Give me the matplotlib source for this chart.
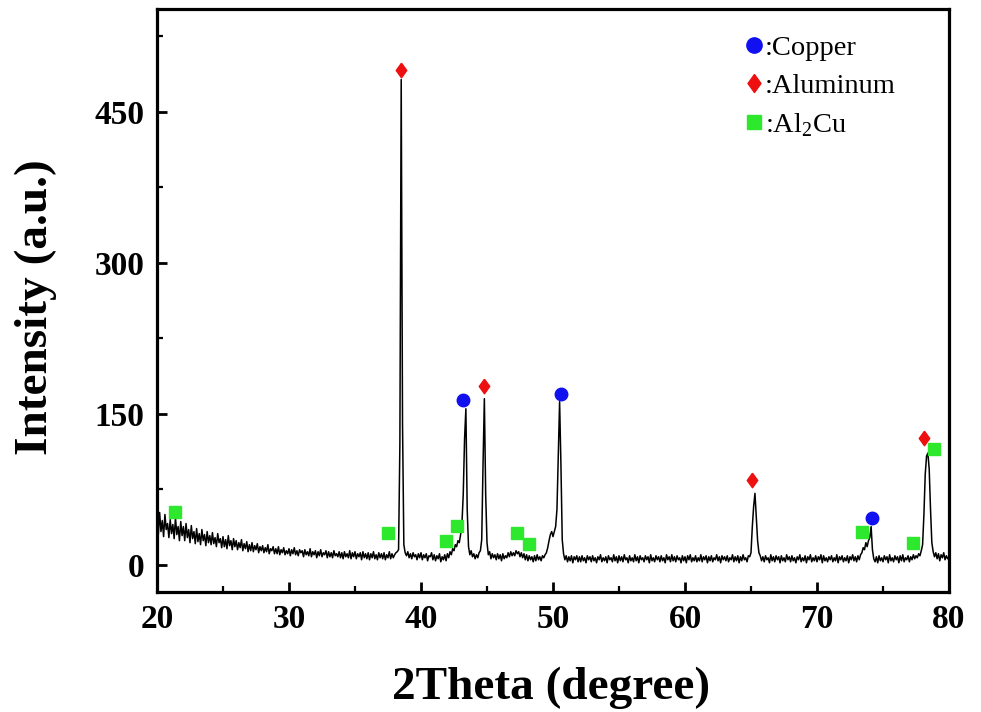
import numpy as np
import matplotlib
matplotlib.use("Agg")
import matplotlib.pyplot as plt
from matplotlib.lines import Line2D

# ---------------- data ----------------
two_theta_start = 20.0
two_theta_step = 0.1
intensity = [
    46, 30, 52, 33, 44, 28, 50, 35, 41, 27,   # 20
    45, 31, 40, 26, 47, 30, 38, 24, 43, 29,   # 21
    38, 24, 41, 27, 35, 22, 39, 26, 33, 21,   # 22
    36, 23, 31, 20, 35, 24, 30, 19, 33, 22,   # 23
    29, 20, 32, 21, 27, 18, 31, 22, 26, 17,   # 24
    28, 18, 25, 16, 29, 19, 24, 15, 26, 18,   # 25
    24, 15, 22, 17, 25, 14, 21, 16, 23, 13,   # 26
    20, 14, 22, 13, 19, 15, 21, 12, 18, 14,   # 27
    19, 12, 17, 13, 20, 11, 16, 14, 18, 11,   # 28
    16, 11, 18, 10, 15, 12, 17, 10, 14, 11,   # 29
    16, 9, 15, 11, 17, 10, 14, 9, 15, 12,     # 30
    14, 8, 15, 10, 13, 9, 16, 8, 13, 10,      # 31
    14, 7, 13, 9, 15, 8, 12, 10, 14, 7,       # 32
    13, 8, 12, 7, 14, 9, 11, 8, 13, 7,        # 33
    12, 6, 13, 8, 11, 7, 14, 6, 12, 8,        # 34
    13, 6, 11, 8, 12, 5, 13, 7, 11, 6,        # 35
    12, 5, 11, 7, 13, 6, 10, 5, 12, 7,        # 36
    11, 6, 12, 5, 10, 7, 13, 6, 11, 7,        # 37
    10, 12, 13, 15, 120, 482, 140, 20, 12, 9, # 38
    13, 7, 11, 6, 12, 8, 10, 5, 11, 7,        # 39
    12, 5, 10, 7, 11, 4, 9, 8, 12, 5,         # 40
    10, 4, 9, 6, 11, 3, 8, 5, 10, 4,          # 41
    11, 7, 13, 10, 16, 14, 20, 18, 24, 22,    # 42
    30, 40, 70, 125, 155, 55, 18, 10, 14, 8,  # 43
    11, 6, 10, 7, 12, 14, 25, 100, 165, 70,   # 44
    22, 10, 13, 6, 11, 7, 10, 5, 11, 6,       # 45
    10, 4, 11, 6, 9, 7, 12, 8, 13, 9,         # 46
    12, 9, 14, 11, 13, 8, 12, 7, 11, 5,       # 47
    10, 4, 9, 5, 8, 3, 9, 4, 10, 5,           # 48
    8, 4, 9, 7, 10, 12, 17, 24, 30, 33,       # 49
    28, 33, 38, 55, 110, 162, 100, 25, 11, 5, # 50
    9, 3, 8, 4, 9, 2, 8, 5, 9, 3,             # 51
    8, 3, 9, 4, 7, 2, 9, 5, 8, 3,             # 52
    9, 4, 7, 2, 8, 5, 10, 3, 7, 4,            # 53
    8, 2, 9, 5, 7, 3, 10, 4, 8, 2,            # 54
    9, 4, 8, 3, 10, 5, 7, 2, 9, 4,            # 55
    7, 3, 10, 4, 8, 2, 9, 5, 7, 3,            # 56
    9, 5, 8, 2, 10, 4, 7, 3, 9, 5,            # 57
    8, 3, 9, 4, 7, 2, 10, 5, 8, 3,            # 58
    10, 4, 8, 3, 9, 5, 7, 2, 9, 4,            # 59
    8, 2, 9, 5, 10, 3, 7, 4, 9, 3,            # 60
    7, 4, 10, 3, 8, 5, 9, 2, 8, 4,            # 61
    9, 3, 7, 5, 10, 4, 8, 2, 9, 5,            # 62
    8, 4, 9, 3, 7, 5, 10, 3, 8, 4,            # 63
    9, 2, 8, 4, 10, 5, 7, 3, 9, 8,            # 64
    12, 38, 58, 71, 48, 24, 12, 9, 4, 8,      # 65
    3, 9, 5, 7, 2, 10, 4, 8, 3, 9,            # 66
    5, 8, 2, 9, 4, 7, 3, 10, 5, 8,            # 67
    3, 9, 4, 7, 2, 8, 5, 10, 3, 7,            # 68
    4, 9, 2, 8, 5, 10, 3, 7, 4, 9,            # 69
    3, 8, 5, 10, 2, 9, 4, 7, 3, 8,            # 70
    5, 9, 3, 7, 4, 10, 2, 8, 5, 9,            # 71
    3, 7, 4, 9, 2, 8, 5, 10, 4, 8,            # 72
    3, 9, 5, 10, 12, 17, 15, 22, 18, 24,      # 73
    27, 38, 15, 6, 3, 8, 2, 9, 4, 7,          # 74
    3, 9, 5, 8, 2, 10, 4, 7, 3, 9,            # 75
    5, 8, 2, 9, 4, 10, 3, 7, 5, 9,            # 76
    3, 8, 5, 10, 6, 9, 7, 11, 9, 14,          # 77
    20, 50, 90, 108, 111, 95, 55, 22, 13, 8,  # 78
    12, 6, 11, 4, 10, 7, 12, 5, 9, 6,         # 79
    8,                                        # 80
]

copper_x = [43.2, 50.58, 74.14]
copper_y = [164, 170, 46]
aluminum_x = [38.48, 44.8, 65.05, 78.13]
aluminum_y = [491, 178, 84, 126]
al2cu_x = [21.36, 37.52, 41.87, 42.7, 47.3, 48.2, 73.4, 77.25, 78.9]
al2cu_y = [52, 32, 24, 39, 32, 21, 33, 22, 115]

x_ticks = [20, 30, 40, 50, 60, 70, 80]
y_ticks = [0, 150, 300, 450]

# ---------------- figure ----------------
plt.rcParams['font.family'] = ['Liberation Serif', 'DejaVu Serif']
plt.rcParams['mathtext.fontset'] = 'custom'
plt.rcParams['mathtext.rm'] = 'Liberation Serif'

fig = plt.figure(figsize=(9.81, 7.12), dpi=100)
ax = fig.add_axes([157 / 981, 1 - 592 / 712, 792 / 981, 583 / 712])

two_theta = two_theta_start + two_theta_step * np.arange(len(intensity))
ax.plot(two_theta, intensity, color='black', lw=1.1)

blue = '#1010f0'
red = '#ee1010'
green = '#2ee82e'
diamond = [(0, 1), (0.72, 0), (0, -1), (-0.72, 0), (0, 1)]

ax.plot(copper_x, copper_y, ls='none', marker='o', ms=9, color=blue, mec=blue, zorder=3)
ax.plot(aluminum_x, aluminum_y, ls='none', marker=diamond, ms=10.5, color=red, mec=red, zorder=3)
ax.plot(al2cu_x, al2cu_y, ls='none', marker='s', ms=8.6, color=green, mec=green, zorder=3)

ax.set_xlim(20, 80)
ax.set_ylim(-27, 552)
ax.set_xticks(x_ticks)
ax.set_yticks(y_ticks)
ax.set_xticks([25, 35, 45, 55, 65, 75], minor=True)
ax.set_yticks([75, 225, 375, 525], minor=True)

for s in ax.spines.values():
    s.set_linewidth(2.3)

ax.tick_params(which='major', direction='in', length=7, width=2.0, pad=9)
ax.tick_params(which='minor', direction='in', length=4, width=1.6)
for lab in ax.get_xticklabels() + ax.get_yticklabels():
    lab.set_fontweight('bold')
    lab.set_fontsize(24)

ax.set_xlabel('2Theta (degree)', fontsize=34, fontweight='bold')
ax.set_ylabel('Intensity (a.u.)', fontsize=34, fontweight='bold')
ax.xaxis.set_label_coords(0.497, -0.128)
ax.yaxis.set_label_coords(-0.126, 0.489)

handles = [
    Line2D([], [], ls='none', marker='o', ms=11, color=blue),
    Line2D([], [], ls='none', marker=diamond, ms=13, color=red),
    Line2D([], [], ls='none', marker='s', ms=10, color=green),
]
labels = [':Copper', ':Aluminum', r':Al$_{\mathrm{2}}$Cu']
ax.legend(handles, labels, loc='upper left', bbox_to_anchor=(0.741, 0.955),
          frameon=False, fontsize=20.5, handlelength=0.7, handletextpad=0.05,
          labelspacing=0.42, borderpad=0, borderaxespad=0)

fig.savefig('out.png', dpi=100)
